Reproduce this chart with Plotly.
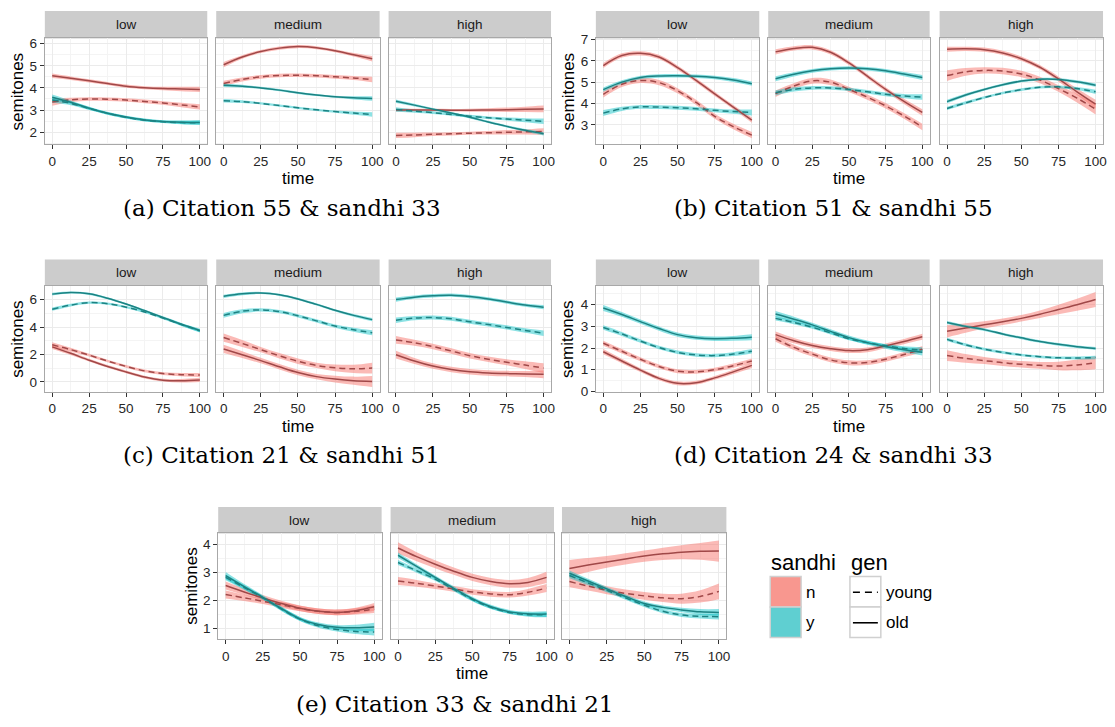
import plotly.graph_objects as go

W, H = 1115, 727

# ---------------- data ----------------
TIME = [0, 12.5, 25, 37.5, 50, 62.5, 75, 87.5, 100]
FACETS = ["low", "medium", "high"]
X_TICKS = [0, 25, 50, 75, 100]
X_MINOR = [12.5, 37.5, 62.5, 87.5]

A_YTICKS = [2, 3, 4, 5, 6]
B_YTICKS = [3, 4, 5, 6, 7]
C_YTICKS = [0, 2, 4, 6]
D_YTICKS = [0, 1, 2, 3, 4]
E_YTICKS = [1, 2, 3, 4]

CAPTIONS = ["(a) Citation 55 & sandhi 33", "(b) Citation 51 & sandhi 55",
            "(c) Citation 21 & sandhi 51", "(d) Citation 24 & sandhi 33",
            "(e) Citation 33 & sandhi 21"]

# (a)
a_low_n_old = [4.55, 4.44, 4.32, 4.20, 4.08, 4.01, 3.97, 3.95, 3.93]
a_low_n_old_se = [0.10, 0.08, 0.07, 0.07, 0.07, 0.07, 0.08, 0.10, 0.12]
a_low_n_young = [3.36, 3.46, 3.50, 3.49, 3.45, 3.39, 3.32, 3.23, 3.14]
a_low_n_young_se = [0.17, 0.10, 0.08, 0.08, 0.08, 0.08, 0.08, 0.10, 0.12]
a_low_y_old = [3.58, 3.35, 3.08, 2.85, 2.68, 2.55, 2.48, 2.45, 2.44]
a_low_y_old_se = [0.12, 0.08, 0.07, 0.06, 0.06, 0.06, 0.06, 0.08, 0.10]
a_low_y_young = [3.45, 3.30, 3.07, 2.85, 2.67, 2.54, 2.47, 2.43, 2.42]
a_low_y_young_se = [0.12, 0.08, 0.07, 0.06, 0.06, 0.06, 0.06, 0.08, 0.10]

a_med_n_old = [5.05, 5.40, 5.65, 5.80, 5.87, 5.82, 5.68, 5.50, 5.32]
a_med_n_old_se = [0.12, 0.08, 0.07, 0.07, 0.07, 0.07, 0.07, 0.08, 0.12]
a_med_n_young = [4.20, 4.38, 4.50, 4.56, 4.57, 4.55, 4.50, 4.45, 4.38]
a_med_n_young_se = [0.12, 0.09, 0.08, 0.08, 0.08, 0.08, 0.08, 0.09, 0.12]
a_med_y_old = [4.12, 4.08, 4.00, 3.90, 3.78, 3.68, 3.60, 3.55, 3.52]
a_med_y_old_se = [0.08, 0.06, 0.05, 0.05, 0.05, 0.05, 0.05, 0.07, 0.10]
a_med_y_young = [3.42, 3.38, 3.30, 3.20, 3.10, 3.01, 2.93, 2.86, 2.80]
a_med_y_young_se = [0.08, 0.06, 0.05, 0.05, 0.05, 0.05, 0.05, 0.07, 0.10]

a_high_n_old = [3.00, 3.00, 3.00, 2.99, 2.99, 3.00, 3.01, 3.03, 3.05]
a_high_n_old_se = [0.07, 0.06, 0.06, 0.06, 0.07, 0.08, 0.10, 0.12, 0.15]
a_high_n_young = [1.85, 1.87, 1.90, 1.92, 1.95, 1.97, 1.99, 2.01, 2.03]
a_high_n_young_se = [0.12, 0.10, 0.08, 0.07, 0.07, 0.08, 0.10, 0.12, 0.15]
a_high_y_old = [3.40, 3.22, 3.04, 2.86, 2.67, 2.46, 2.26, 2.08, 1.93]
a_high_y_old_se = [0.08, 0.06, 0.05, 0.05, 0.05, 0.05, 0.05, 0.06, 0.08]
a_high_y_young = [3.02, 2.95, 2.88, 2.80, 2.72, 2.65, 2.59, 2.54, 2.49]
a_high_y_young_se = [0.10, 0.07, 0.06, 0.06, 0.06, 0.06, 0.07, 0.09, 0.12]

# (b)
b_low_n_old = [5.78, 6.25, 6.35, 6.18, 5.68, 5.08, 4.45, 3.83, 3.22]
b_low_n_old_se = [0.12, 0.10, 0.10, 0.10, 0.10, 0.10, 0.10, 0.10, 0.12]
b_low_n_young = [4.43, 4.90, 5.08, 4.98, 4.60, 4.05, 3.40, 2.92, 2.52]
b_low_n_young_se = [0.15, 0.13, 0.12, 0.12, 0.12, 0.12, 0.12, 0.13, 0.15]
b_low_y_old = [4.65, 5.00, 5.22, 5.29, 5.30, 5.28, 5.22, 5.10, 4.93]
b_low_y_old_se = [0.10, 0.09, 0.08, 0.08, 0.08, 0.08, 0.08, 0.09, 0.10]
b_low_y_young = [3.55, 3.75, 3.84, 3.83, 3.80, 3.75, 3.68, 3.62, 3.58]
b_low_y_young_se = [0.14, 0.10, 0.09, 0.09, 0.09, 0.09, 0.09, 0.10, 0.14]

b_med_n_old = [6.42, 6.58, 6.63, 6.40, 5.90, 5.28, 4.66, 4.10, 3.58]
b_med_n_old_se = [0.12, 0.10, 0.10, 0.10, 0.10, 0.10, 0.10, 0.12, 0.15]
b_med_n_young = [4.46, 4.82, 5.06, 5.00, 4.66, 4.30, 3.89, 3.42, 2.90]
b_med_n_young_se = [0.15, 0.13, 0.13, 0.13, 0.12, 0.12, 0.13, 0.13, 0.15]
b_med_y_old = [5.16, 5.37, 5.53, 5.63, 5.66, 5.63, 5.53, 5.38, 5.22]
b_med_y_old_se = [0.12, 0.10, 0.09, 0.08, 0.08, 0.08, 0.09, 0.10, 0.12]
b_med_y_young = [4.50, 4.66, 4.73, 4.73, 4.66, 4.55, 4.43, 4.35, 4.30]
b_med_y_young_se = [0.12, 0.10, 0.09, 0.08, 0.08, 0.08, 0.09, 0.10, 0.13]

b_high_n_old = [6.54, 6.56, 6.52, 6.37, 6.10, 5.70, 5.15, 4.55, 3.97]
b_high_n_old_se = [0.12, 0.10, 0.10, 0.10, 0.10, 0.10, 0.12, 0.15, 0.20]
b_high_n_young = [5.31, 5.48, 5.55, 5.52, 5.38, 5.10, 4.70, 4.25, 3.74]
b_high_n_young_se = [0.25, 0.18, 0.15, 0.15, 0.15, 0.15, 0.15, 0.20, 0.25]
b_high_y_old = [4.09, 4.40, 4.66, 4.88, 5.05, 5.14, 5.13, 5.02, 4.86]
b_high_y_old_se = [0.08, 0.07, 0.06, 0.06, 0.06, 0.06, 0.06, 0.07, 0.08]
b_high_y_young = [3.77, 4.03, 4.28, 4.49, 4.65, 4.76, 4.78, 4.70, 4.55]
b_high_y_young_se = [0.08, 0.07, 0.06, 0.06, 0.06, 0.06, 0.06, 0.07, 0.10]

# (c)
c_low_n_old = [2.55, 2.08, 1.58, 1.12, 0.72, 0.35, 0.12, 0.08, 0.14]
c_low_n_old_se = [0.15, 0.12, 0.10, 0.10, 0.10, 0.10, 0.10, 0.12, 0.15]
c_low_n_young = [2.70, 2.35, 1.95, 1.52, 1.13, 0.80, 0.60, 0.52, 0.50]
c_low_n_young_se = [0.18, 0.13, 0.10, 0.10, 0.10, 0.10, 0.10, 0.12, 0.15]
c_low_y_old = [6.40, 6.52, 6.42, 6.10, 5.68, 5.20, 4.70, 4.20, 3.75]
c_low_y_old_se = [0.10, 0.08, 0.08, 0.08, 0.08, 0.08, 0.08, 0.10, 0.12]
c_low_y_young = [5.30, 5.60, 5.78, 5.70, 5.45, 5.10, 4.65, 4.18, 3.72]
c_low_y_young_se = [0.12, 0.10, 0.08, 0.08, 0.08, 0.08, 0.08, 0.10, 0.12]

c_med_n_old = [2.40, 1.98, 1.55, 1.10, 0.68, 0.38, 0.20, 0.08, 0.03]
c_med_n_old_se = [0.30, 0.25, 0.20, 0.20, 0.20, 0.20, 0.25, 0.30, 0.40]
c_med_n_young = [3.23, 2.80, 2.35, 1.90, 1.50, 1.20, 1.02, 0.95, 1.00]
c_med_n_young_se = [0.30, 0.25, 0.20, 0.20, 0.20, 0.20, 0.25, 0.30, 0.40]
c_med_y_old = [6.24, 6.42, 6.48, 6.35, 6.05, 5.65, 5.22, 4.85, 4.54]
c_med_y_old_se = [0.12, 0.10, 0.08, 0.08, 0.08, 0.08, 0.08, 0.10, 0.12]
c_med_y_young = [4.85, 5.15, 5.25, 5.12, 4.82, 4.45, 4.07, 3.80, 3.58]
c_med_y_young_se = [0.18, 0.15, 0.12, 0.12, 0.12, 0.12, 0.12, 0.15, 0.18]

c_high_n_old = [1.98, 1.52, 1.15, 0.90, 0.74, 0.65, 0.60, 0.57, 0.55]
c_high_n_old_se = [0.28, 0.22, 0.20, 0.20, 0.20, 0.20, 0.20, 0.22, 0.28]
c_high_n_young = [3.06, 2.85, 2.58, 2.25, 1.91, 1.65, 1.43, 1.22, 1.00]
c_high_n_young_se = [0.28, 0.22, 0.20, 0.20, 0.20, 0.20, 0.22, 0.28, 0.35]
c_high_y_old = [6.00, 6.18, 6.28, 6.32, 6.22, 6.05, 5.82, 5.60, 5.45]
c_high_y_old_se = [0.15, 0.12, 0.12, 0.12, 0.12, 0.12, 0.12, 0.12, 0.15]
c_high_y_young = [4.50, 4.65, 4.69, 4.60, 4.38, 4.18, 3.97, 3.75, 3.55]
c_high_y_young_se = [0.20, 0.16, 0.15, 0.15, 0.15, 0.15, 0.15, 0.16, 0.20]

# (d)
d_low_n_old = [1.83, 1.40, 0.98, 0.60, 0.37, 0.40, 0.62, 0.90, 1.20]
d_low_n_old_se = [0.12, 0.10, 0.09, 0.09, 0.09, 0.09, 0.09, 0.10, 0.12]
d_low_n_young = [2.22, 1.85, 1.48, 1.15, 0.93, 0.90, 1.00, 1.18, 1.40]
d_low_n_young_se = [0.12, 0.10, 0.09, 0.09, 0.09, 0.09, 0.09, 0.10, 0.12]
d_low_y_old = [3.85, 3.55, 3.22, 2.90, 2.62, 2.48, 2.43, 2.45, 2.50]
d_low_y_old_se = [0.14, 0.11, 0.10, 0.10, 0.10, 0.10, 0.10, 0.11, 0.14]
d_low_y_young = [2.95, 2.65, 2.32, 2.02, 1.80, 1.68, 1.65, 1.72, 1.85]
d_low_y_young_se = [0.10, 0.09, 0.08, 0.08, 0.08, 0.08, 0.08, 0.09, 0.10]

d_med_n_old = [2.62, 2.34, 2.12, 1.97, 1.88, 1.92, 2.10, 2.30, 2.52]
d_med_n_old_se = [0.14, 0.12, 0.11, 0.11, 0.11, 0.11, 0.11, 0.12, 0.14]
d_med_n_young = [2.43, 2.03, 1.72, 1.45, 1.32, 1.33, 1.48, 1.70, 1.95]
d_med_n_young_se = [0.14, 0.12, 0.11, 0.11, 0.11, 0.11, 0.11, 0.12, 0.14]
d_med_y_old = [3.57, 3.33, 3.07, 2.77, 2.48, 2.25, 2.07, 1.92, 1.80]
d_med_y_old_se = [0.14, 0.12, 0.10, 0.10, 0.10, 0.10, 0.10, 0.12, 0.15]
d_med_y_young = [3.37, 3.18, 2.96, 2.70, 2.43, 2.25, 2.10, 1.98, 1.90]
d_med_y_young_se = [0.10, 0.08, 0.07, 0.07, 0.07, 0.07, 0.07, 0.10, 0.14]

d_high_n_old = [2.77, 2.92, 3.07, 3.21, 3.37, 3.56, 3.78, 4.00, 4.24]
d_high_n_old_se = [0.28, 0.22, 0.17, 0.15, 0.15, 0.17, 0.22, 0.28, 0.35]
d_high_n_young = [1.65, 1.52, 1.42, 1.32, 1.25, 1.20, 1.17, 1.22, 1.32]
d_high_n_young_se = [0.25, 0.20, 0.16, 0.15, 0.15, 0.16, 0.20, 0.25, 0.30]
d_high_y_old = [3.18, 3.00, 2.85, 2.65, 2.47, 2.30, 2.17, 2.06, 1.98]
d_high_y_old_se = [0.07, 0.06, 0.06, 0.06, 0.06, 0.06, 0.06, 0.06, 0.07]
d_high_y_young = [2.40, 2.15, 1.95, 1.80, 1.68, 1.60, 1.55, 1.54, 1.56]
d_high_y_young_se = [0.08, 0.07, 0.06, 0.06, 0.06, 0.06, 0.06, 0.07, 0.08]

# (e)
e_low_n_old = [2.54, 2.31, 2.10, 1.90, 1.73, 1.62, 1.58, 1.64, 1.78]
e_low_n_old_se = [0.14, 0.11, 0.10, 0.10, 0.10, 0.10, 0.10, 0.11, 0.14]
e_low_n_young = [2.22, 2.10, 1.98, 1.85, 1.72, 1.62, 1.58, 1.62, 1.70]
e_low_n_young_se = [0.14, 0.11, 0.10, 0.10, 0.10, 0.10, 0.10, 0.11, 0.14]
e_low_y_old = [2.89, 2.50, 2.12, 1.72, 1.35, 1.15, 1.05, 1.03, 1.06]
e_low_y_old_se = [0.13, 0.09, 0.07, 0.07, 0.07, 0.07, 0.08, 0.11, 0.15]
e_low_y_young = [2.83, 2.47, 2.10, 1.70, 1.34, 1.10, 0.97, 0.90, 0.88]
e_low_y_young_se = [0.10, 0.08, 0.07, 0.07, 0.07, 0.07, 0.07, 0.09, 0.12]

e_med_n_old = [3.88, 3.57, 3.30, 3.05, 2.83, 2.68, 2.60, 2.65, 2.83]
e_med_n_old_se = [0.20, 0.16, 0.14, 0.13, 0.13, 0.13, 0.14, 0.16, 0.20]
e_med_n_young = [2.70, 2.62, 2.52, 2.42, 2.31, 2.24, 2.21, 2.30, 2.45]
e_med_n_young_se = [0.14, 0.12, 0.10, 0.10, 0.10, 0.10, 0.10, 0.12, 0.14]
e_med_y_old = [3.62, 3.22, 2.83, 2.44, 2.07, 1.78, 1.60, 1.53, 1.52]
e_med_y_old_se = [0.10, 0.08, 0.07, 0.07, 0.07, 0.07, 0.07, 0.08, 0.10]
e_med_y_young = [3.36, 3.07, 2.77, 2.40, 2.04, 1.76, 1.58, 1.50, 1.50]
e_med_y_young_se = [0.09, 0.07, 0.06, 0.06, 0.06, 0.06, 0.06, 0.07, 0.09]

e_high_n_old = [3.15, 3.27, 3.38, 3.49, 3.59, 3.67, 3.73, 3.76, 3.77]
e_high_n_old_se = [0.30, 0.25, 0.21, 0.20, 0.20, 0.22, 0.25, 0.30, 0.38]
e_high_n_young = [2.68, 2.52, 2.37, 2.26, 2.17, 2.10, 2.07, 2.15, 2.33]
e_high_n_young_se = [0.20, 0.16, 0.14, 0.14, 0.14, 0.15, 0.18, 0.22, 0.28]
e_high_y_old = [2.98, 2.70, 2.42, 2.15, 1.90, 1.76, 1.67, 1.60, 1.58]
e_high_y_old_se = [0.10, 0.08, 0.07, 0.07, 0.07, 0.07, 0.08, 0.10, 0.12]
e_high_y_young = [2.90, 2.63, 2.37, 2.10, 1.84, 1.62, 1.49, 1.44, 1.43]
e_high_y_young_se = [0.10, 0.08, 0.07, 0.07, 0.07, 0.07, 0.07, 0.08, 0.10]

# ---------------- assemble ----------------
def panel(ny, nys, no, nos, yy, yys, yo, yos):
    return [("n", "young", ny, nys), ("n", "old", no, nos),
            ("y", "young", yy, yys), ("y", "old", yo, yos)]

DATA = {
    "a": [panel(a_low_n_young, a_low_n_young_se, a_low_n_old, a_low_n_old_se,
                a_low_y_young, a_low_y_young_se, a_low_y_old, a_low_y_old_se),
          panel(a_med_n_young, a_med_n_young_se, a_med_n_old, a_med_n_old_se,
                a_med_y_young, a_med_y_young_se, a_med_y_old, a_med_y_old_se),
          panel(a_high_n_young, a_high_n_young_se, a_high_n_old, a_high_n_old_se,
                a_high_y_young, a_high_y_young_se, a_high_y_old, a_high_y_old_se)],
    "b": [panel(b_low_n_young, b_low_n_young_se, b_low_n_old, b_low_n_old_se,
                b_low_y_young, b_low_y_young_se, b_low_y_old, b_low_y_old_se),
          panel(b_med_n_young, b_med_n_young_se, b_med_n_old, b_med_n_old_se,
                b_med_y_young, b_med_y_young_se, b_med_y_old, b_med_y_old_se),
          panel(b_high_n_young, b_high_n_young_se, b_high_n_old, b_high_n_old_se,
                b_high_y_young, b_high_y_young_se, b_high_y_old, b_high_y_old_se)],
    "c": [panel(c_low_n_young, c_low_n_young_se, c_low_n_old, c_low_n_old_se,
                c_low_y_young, c_low_y_young_se, c_low_y_old, c_low_y_old_se),
          panel(c_med_n_young, c_med_n_young_se, c_med_n_old, c_med_n_old_se,
                c_med_y_young, c_med_y_young_se, c_med_y_old, c_med_y_old_se),
          panel(c_high_n_young, c_high_n_young_se, c_high_n_old, c_high_n_old_se,
                c_high_y_young, c_high_y_young_se, c_high_y_old, c_high_y_old_se)],
    "d": [panel(d_low_n_young, d_low_n_young_se, d_low_n_old, d_low_n_old_se,
                d_low_y_young, d_low_y_young_se, d_low_y_old, d_low_y_old_se),
          panel(d_med_n_young, d_med_n_young_se, d_med_n_old, d_med_n_old_se,
                d_med_y_young, d_med_y_young_se, d_med_y_old, d_med_y_old_se),
          panel(d_high_n_young, d_high_n_young_se, d_high_n_old, d_high_n_old_se,
                d_high_y_young, d_high_y_young_se, d_high_y_old, d_high_y_old_se)],
    "e": [panel(e_low_n_young, e_low_n_young_se, e_low_n_old, e_low_n_old_se,
                e_low_y_young, e_low_y_young_se, e_low_y_old, e_low_y_old_se),
          panel(e_med_n_young, e_med_n_young_se, e_med_n_old, e_med_n_old_se,
                e_med_y_young, e_med_y_young_se, e_med_y_old, e_med_y_old_se),
          panel(e_high_n_young, e_high_n_young_se, e_high_n_old, e_high_n_old_se,
                e_high_y_young, e_high_y_young_se, e_high_y_old, e_high_y_old_se)],
}

# ---------------- layout geometry (pixels) ----------------
COLS_LEFT = [(45, 208), (217, 381), (390, 553)]
COLS_RIGHT = [(598, 762), (771, 933), (943, 1107)]
COLS_E = [(219, 383), (392, 556), (564, 729)]
ROW1 = (5, 33, 141)     # strip top, panel top, panel bottom
ROW2 = (258, 285, 393)
ROW3 = (510, 537, 645)

GROUPS = [
    dict(key="a", cols=COLS_LEFT, row=ROW1, yr=[1.44, 6.24], yt=A_YTICKS, ylab_x=18,
         cap=CAPTIONS[0], cap_x=283, cap_y=206, time_y=176),
    dict(key="b", cols=COLS_RIGHT, row=ROW1, yr=[2.08, 7.05], yt=B_YTICKS, ylab_x=570,
         cap=CAPTIONS[1], cap_x=836, cap_y=206, time_y=176),
    dict(key="c", cols=COLS_LEFT, row=ROW2, yr=[-0.74, 7.0], yt=C_YTICKS, ylab_x=18,
         cap=CAPTIONS[2], cap_x=283, cap_y=457, time_y=428),
    dict(key="d", cols=COLS_RIGHT, row=ROW2, yr=[-0.03, 4.87], yt=D_YTICKS, ylab_x=570,
         cap=CAPTIONS[3], cap_x=836, cap_y=457, time_y=428),
    dict(key="e", cols=COLS_E, row=ROW3, yr=[0.615, 4.40], yt=E_YTICKS, ylab_x=192,
         cap=CAPTIONS[4], cap_x=457, cap_y=711, time_y=680),
]

RIBBON = {"n": "rgba(248,118,109,0.5)", "y": "rgba(0,191,196,0.45)"}
LINE = {"n": "#A04848", "y": "#1C8282"}
DASH = {"young": "6px,4px", "old": "solid"}

SANS = "Liberation Sans, Arial, Helvetica, sans-serif"
SERIF = "DejaVu Serif, serif"


def px_x(p):
    return p / W


def px_y(p):
    return 1 - p / H


fig = go.Figure()
layout_axes = {}
shapes = []
annotations = []
k = 0
for g in GROUPS:
    st, pt, pb = g["row"]
    step = g["yt"][1] - g["yt"][0]
    yminor = [v + step / 2 for v in [g["yt"][0] - step] + g["yt"]]
    for fi, facet in enumerate(FACETS):
        k += 1
        sx = "" if k == 1 else str(k)
        xa, ya = "x" + sx, "y" + sx
        x0, x1 = g["cols"][fi]
        curves = DATA[g["key"]][fi]
        # ribbons
        for s, gen, vals, se in curves:
            lo = [v - e for v, e in zip(vals, se)]
            hi = [v + e for v, e in zip(vals, se)]
            fig.add_trace(go.Scatter(x=TIME, y=lo, xaxis=xa, yaxis=ya, mode="lines",
                                     line=dict(width=0, shape="spline"),
                                     showlegend=False, hoverinfo="skip"))
            fig.add_trace(go.Scatter(x=TIME, y=hi, xaxis=xa, yaxis=ya, mode="lines",
                                     line=dict(width=0, shape="spline"),
                                     fill="tonexty", fillcolor=RIBBON[s],
                                     showlegend=False, hoverinfo="skip"))
        # lines
        for s, gen, vals, se in curves:
            fig.add_trace(go.Scatter(x=TIME, y=vals, xaxis=xa, yaxis=ya, mode="lines",
                                     line=dict(width=1.5, color=LINE[s], dash=DASH[gen],
                                               shape="spline"),
                                     showlegend=False, name=f"{s} {gen}"))
        layout_axes["xaxis" + sx] = dict(
            domain=[px_x(x0), px_x(x1)], anchor=ya, range=[-5, 105],
            tickvals=X_TICKS, ticks="outside", ticklen=4, tickcolor="#333333",
            tickfont=dict(family=SANS, size=13.5, color="#262626"),
            showgrid=True, gridcolor="#EBEBEB", gridwidth=1,
            minor=dict(tickvals=X_MINOR, showgrid=True, gridcolor="#F4F4F4", gridwidth=0.6),
            showline=True, linecolor="#A8A8A8", linewidth=1, mirror=True,
            zeroline=False, fixedrange=True)
        layout_axes["yaxis" + sx] = dict(
            domain=[px_y(pb), px_y(pt)], anchor=xa, range=g["yr"],
            tickvals=g["yt"], ticks="outside" if fi == 0 else "", ticklen=4,
            tickcolor="#333333", showticklabels=(fi == 0),
            tickfont=dict(family=SANS, size=13.5, color="#262626"),
            showgrid=True, gridcolor="#EBEBEB", gridwidth=1,
            minor=dict(tickvals=yminor, showgrid=True, gridcolor="#F4F4F4", gridwidth=0.6),
            showline=True, linecolor="#A8A8A8", linewidth=1, mirror=True,
            zeroline=False, fixedrange=True)
        # strip
        shapes.append(dict(type="rect", xref="paper", yref="paper",
                           x0=px_x(x0), x1=px_x(x1), y0=px_y(pt), y1=px_y(st),
                           fillcolor="#CCCCCC", line=dict(width=0), layer="below"))
        annotations.append(dict(text=facet, xref="paper", yref="paper",
                                x=px_x((x0 + x1) / 2), y=px_y((st + pt) / 2),
                                showarrow=False, xanchor="center", yanchor="middle",
                                font=dict(family=SANS, size=13.5, color="#1A1A1A")))
    # axis titles
    mx0, mx1 = g["cols"][1]
    annotations.append(dict(text="time", xref="paper", yref="paper",
                            x=px_x((mx0 + mx1) / 2), y=px_y(g["time_y"]),
                            showarrow=False, xanchor="center", yanchor="middle",
                            font=dict(family=SANS, size=17, color="#000000")))
    annotations.append(dict(text="semitones", xref="paper", yref="paper",
                            x=px_x(g["ylab_x"]), y=px_y((pt + pb) / 2), textangle=-90,
                            showarrow=False, xanchor="center", yanchor="middle",
                            font=dict(family=SANS, size=17, color="#000000")))
    annotations.append(dict(text=g["cap"], xref="paper", yref="paper",
                            x=px_x(g["cap_x"]), y=px_y(g["cap_y"]),
                            showarrow=False, xanchor="center", yanchor="middle",
                            font=dict(family=SERIF, size=23, color="#000000")))

# ---------------- legend (drawn manually) ----------------
LEG_KEY = {"n": "#F8978F", "y": "#5FCFD1"}
annotations.append(dict(text="sandhi", xref="paper", yref="paper", x=px_x(772), y=px_y(567),
                        showarrow=False, xanchor="left", yanchor="middle",
                        font=dict(family=SANS, size=22, color="#000000")))
annotations.append(dict(text="gen", xref="paper", yref="paper", x=px_x(852), y=px_y(567),
                        showarrow=False, xanchor="left", yanchor="middle",
                        font=dict(family=SANS, size=22, color="#000000")))
for i, (lab, s) in enumerate([("n", "n"), ("y", "y")]):
    y0 = 581 + i * 31
    shapes.append(dict(type="rect", xref="paper", yref="paper",
                       x0=px_x(773), x1=px_x(804), y0=px_y(y0 + 31), y1=px_y(y0),
                       fillcolor=LEG_KEY[s], line=dict(color="#D0D0D0", width=1.5)))
    annotations.append(dict(text=lab, xref="paper", yref="paper", x=px_x(807),
                            y=px_y(y0 + 16), showarrow=False, xanchor="left",
                            yanchor="middle",
                            font=dict(family=SANS, size=17, color="#000000")))
for i, gen in enumerate(["young", "old"]):
    y0 = 581 + i * 31
    shapes.append(dict(type="rect", xref="paper", yref="paper",
                       x0=px_x(853), x1=px_x(884), y0=px_y(y0 + 31), y1=px_y(y0),
                       fillcolor="#FFFFFF", line=dict(color="#D0D0D0", width=1.5)))
    shapes.append(dict(type="line", xref="paper", yref="paper",
                       x0=px_x(856), x1=px_x(881), y0=px_y(y0 + 16), y1=px_y(y0 + 16),
                       line=dict(color="#000000", width=1.6,
                                 dash="7px,5px" if gen == "young" else "solid")))
    annotations.append(dict(text=gen, xref="paper", yref="paper", x=px_x(887),
                            y=px_y(y0 + 16), showarrow=False, xanchor="left",
                            yanchor="middle",
                            font=dict(family=SANS, size=17, color="#000000")))

fig.update_layout(width=W, height=H, autosize=False,
                  margin=dict(l=0, r=0, t=0, b=0, pad=0),
                  paper_bgcolor="white", plot_bgcolor="white",
                  showlegend=False, shapes=shapes, annotations=annotations,
                  **layout_axes)

fig.write_html("out.html", config={"displayModeBar": False})
